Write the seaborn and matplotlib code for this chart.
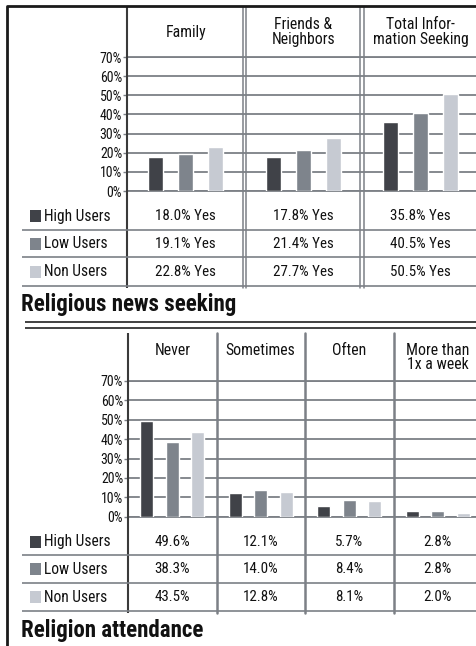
import matplotlib
matplotlib.use("Agg")
import matplotlib.pyplot as plt
import matplotlib.transforms as mtransforms
from matplotlib.lines import Line2D
from matplotlib.patches import Rectangle
from matplotlib import font_manager
import seaborn as sns
import pandas as pd

# ----------------- data

groups = ["High Users", "Low Users", "Non Users"]

news_cats = ["Family", "Friends &\nNeighbors", "Total Infor-\nmation Seeking"]
news_high = [18.0, 17.8, 35.8]
news_low = [19.1, 21.4, 40.5]
news_non = [22.8, 27.7, 50.5]

att_cats = ["Never", "Sometimes", "Often", "More than\n1x a week"]
att_high = [49.6, 12.1, 5.7, 2.8]
att_low = [38.3, 14.0, 8.4, 2.8]
att_non = [43.5, 12.8, 8.1, 2.0]

y_ticks = [0, 10, 20, 30, 40, 50, 60, 70]
y_labels = [f"{t}%" for t in y_ticks]

bar_colors = ["#404248", "#7e848c", "#c6cad2"]
grid_color = "#7c8086"

# ----------------- setup

sns.set_theme(style="white")
names = {f.name for f in font_manager.fontManager.ttflist}
narrow = None
for cand in ["Liberation Sans Narrow", "Roboto Condensed", "Open Sans Condensed"]:
    if cand in names:
        narrow = cand
        break
plt.rcParams["font.family"] = [narrow, "DejaVu Sans"] if narrow else ["DejaVu Sans"]
if not narrow:
    plt.rcParams["font.stretch"] = "condensed"

W, H = 476, 646
fig = plt.figure(figsize=(W / 100, H / 100), dpi=100)


def fx(x):
    return x / W


def fy(y):
    return 1 - y / H


def fig_line(xs, ys, color=grid_color, lw=1.2):
    fig.add_artist(Line2D([fx(x) for x in xs], [fy(y) for y in ys],
                          color=color, lw=lw, transform=fig.transFigure,
                          solid_capstyle="butt"))


def long_df(cats, high, low, non):
    rows = []
    for g, vals in zip(groups, [high, low, non]):
        for c, v in zip(cats, vals):
            rows.append({"cat": c, "group": g, "value": v})
    return pd.DataFrame(rows)


def draw_panel(cats, high, low, non, left, top70, bottom0, col_w, width, gap,
               header_y, header_va, rows_y, row_fmt, v_top, v_bottom, double):
    ax = fig.add_axes([fx(left), fy(bottom0), (W - left) / W, (bottom0 - top70) / H])
    df = long_df(cats, high, low, non)
    sns.barplot(data=df, x="cat", y="value", hue="group", order=cats,
                hue_order=groups, palette=bar_colors, saturation=1,
                width=width, gap=gap, errorbar=None, legend=False, ax=ax,
                zorder=3)
    ax.set_xlim(-0.5, -0.5 + (W - left) / col_w)
    ax.set_ylim(0, 70)
    ax.set_yticks(y_ticks)
    ax.set_yticklabels(y_labels)
    ax.yaxis.grid(True, color=grid_color, lw=1.3)
    ax.axhline(0, color=grid_color, lw=1.3, clip_on=False, zorder=1)
    ax.axhline(70, color=grid_color, lw=1.3, clip_on=False, zorder=1)
    ax.set_axisbelow(True)
    for s in ax.spines.values():
        s.set_visible(False)
    ax.tick_params(axis="y", left=True, length=3, width=1, color=grid_color,
                   pad=0.5, labelsize=10, labelcolor="#111111")
    ax.tick_params(axis="x", bottom=False, labelbottom=False)
    ax.set_xlabel("")
    ax.set_ylabel("")
    ax.patch.set_alpha(0)

    # headers and table values, centred on each category column
    tr = mtransforms.blended_transform_factory(ax.transData, fig.transFigure)
    for i, c in enumerate(cats):
        fig.text(i, fy(header_y), c, transform=tr, ha="center", va=header_va,
                 fontsize=11.3, linespacing=0.95, color="#111111")
        for r, vals in enumerate([high, low, non]):
            fig.text(i, fy(rows_y[r]), row_fmt.format(vals[i]),
                     transform=tr, ha="center", va="center", fontsize=10.8,
                     color="#111111")

    # column separators
    off = 1.7 / col_w
    for b in range(len(cats)):
        xb = b + 0.5
        xs = [xb - off, xb + off] if double else [xb]
        for x in xs:
            fig.add_artist(Line2D([x, x], [fy(v_top), fy(v_bottom)],
                                  transform=tr, color=grid_color,
                                  lw=1.1 if double else 1.8))
    fig_line([left, left], [v_top, v_bottom], color="#3a3a3a", lw=1.5)

    # table rows + legend
    for r, g in enumerate(groups):
        fig_line([22, W], [rows_y[r] + 13.5, rows_y[r] + 13.5], lw=1.2)
        fig.add_artist(Rectangle((fx(30), fy(rows_y[r] + 6)), 11 / W, 12 / H,
                                 transform=fig.transFigure, color=bar_colors[r],
                                 lw=0))
        fig.text(fx(44), fy(rows_y[r]), g, ha="left", va="center",
                 fontsize=11.2, color="#111111")
    return ax


# ----------------- top panel: religious news seeking
draw_panel(news_cats, news_high, news_low, news_non,
           left=127, top70=57, bottom0=191, col_w=117.5, width=0.77, gap=0.5,
           header_y=32, header_va="center", rows_y=[216, 244, 272],
           row_fmt="{:.1f}% Yes", v_top=7, v_bottom=288, double=True)
fig.text(fx(21), fy(304), "Religious news seeking", ha="left", va="center",
         fontsize=16.5, fontweight="bold", color="#111111")

# separator
fig_line([25, W], [322, 322], color="#333333", lw=1.3)
fig_line([25, W], [328, 328], color="#333333", lw=1.3)

# ----------------- bottom panel: religion attendance
draw_panel(att_cats, att_high, att_low, att_non,
           left=128, top70=381, bottom0=516.7, col_w=88.5, width=0.865, gap=0.49,
           header_y=343, header_va="top", rows_y=[541.5, 569, 597],
           row_fmt="{:.1f}%", v_top=333, v_bottom=613, double=False)
fig.text(fx(21), fy(630), "Religion attendance", ha="left", va="center",
         fontsize=16.5, fontweight="bold", color="#111111")

# outer frame
fig_line([7, 7, W], [H, 6, 6], color="#1a1a1a", lw=2)

fig.savefig("out.png", dpi=100)
